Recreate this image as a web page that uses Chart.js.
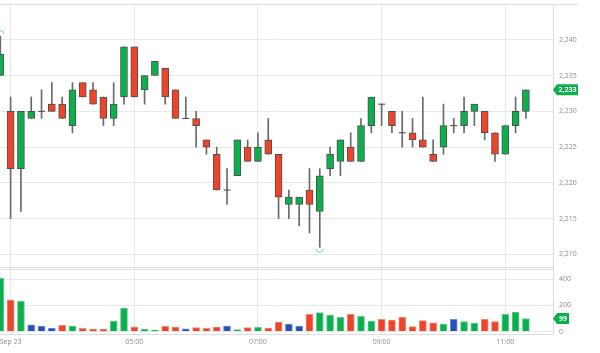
<!DOCTYPE html>
<html>
<head>
<meta charset="utf-8">
<script src="https://cdn.jsdelivr.net/npm/chart.js@4.4.1/dist/chart.umd.min.js"></script>
<style>
  html, body { margin: 0; padding: 0; background: #fff; }
  #wrap { width: 600px; height: 353px; }
</style>
</head>
<body>
<div id="wrap"><canvas id="chart" width="600" height="353"></canvas></div>
<script>
// 10 minute candles, Sep 23
const times = [
  '02:50', '03:00', '03:10', '03:20', '03:30', '03:40', '03:50',
  '04:00', '04:10', '04:20', '04:30', '04:40', '04:50',
  '05:00', '05:10', '05:20', '05:30', '05:40', '05:50',
  '06:00', '06:10', '06:20', '06:30', '06:40', '06:50',
  '07:00', '07:10', '07:20', '07:30', '07:40', '07:50',
  '08:00', '08:10', '08:20', '08:30', '08:40', '08:50',
  '09:00', '09:10', '09:20', '09:30', '09:40', '09:50',
  '10:00', '10:10', '10:20', '10:30', '10:40', '10:50',
  '11:00', '11:10', '11:20'
];
const opens = [
  2235, 2230, 2222, 2229, 2230, 2231, 2231, 2228, 2234, 2233, 2232, 2229, 2232,
  2239, 2233, 2235, 2236, 2233, 2229, 2229, 2226, 2224, 2219, 2221, 2225, 2223,
  2226, 2224, 2217, 2217, 2219, 2216, 2222, 2223, 2225, 2223, 2228, 2231, 2230,
  2227, 2227, 2226, 2224, 2225, 2228, 2228, 2230, 2230, 2227, 2224, 2228, 2230
];
const highs = [
  2240.5, 2232, 2230, 2232, 2233, 2234, 2232, 2234, 2234, 2234, 2232, 2234, 2239,
  2239, 2235, 2237, 2236, 2233, 2232, 2230, 2226, 2225, 2222, 2226, 2226, 2227,
  2229, 2224, 2219, 2218, 2222, 2222, 2225, 2226, 2227, 2229, 2232, 2231, 2230,
  2230, 2229, 2232, 2226, 2231, 2229, 2232, 2231, 2230, 2227, 2228, 2232, 2233
];
const lows = [
  2235, 2215, 2216, 2229, 2229, 2230, 2229, 2227, 2232, 2231, 2228, 2228, 2231,
  2232, 2231, 2235, 2231, 2229, 2229, 2225, 2224, 2219, 2217, 2221, 2223, 2223,
  2224, 2215, 2215, 2214, 2213, 2211, 2221, 2221, 2223, 2223, 2227, 2228, 2227,
  2225, 2225, 2225, 2223, 2224, 2227, 2227, 2228, 2226, 2223, 2224, 2227, 2229
];
const closes = [
  2238, 2222, 2230, 2230, 2230, 2230, 2229, 2233, 2232, 2231, 2229, 2231, 2239,
  2232, 2235, 2237, 2232, 2229, 2229, 2228, 2225, 2219, 2219, 2226, 2223, 2225,
  2224, 2218, 2218, 2218, 2217, 2221, 2224, 2226, 2223, 2228, 2232, 2231, 2228,
  2227, 2226, 2225, 2223, 2228, 2228, 2230, 2231, 2227, 2224, 2228, 2230, 2233
];
const volumes = [
  405, 240, 230, 50, 42, 27, 47, 42, 24, 19, 17, 80, 179,
  34, 19, 11, 40, 34, 21, 29, 24, 34, 42, 14, 29, 32,
  27, 72, 57, 42, 131, 144, 126, 108, 131, 116, 80, 93, 88,
  108, 37, 83, 67, 57, 93, 75, 65, 93, 75, 131, 149, 99
];
const tickTimes = ['03:00', '05:00', '07:00', '09:00', '11:00'];
const tickLabels = ['Sep 23', '05:00', '07:00', '09:00', '11:00'];
const priceTicks = [2210, 2215, 2220, 2225, 2230, 2235, 2240];
const volumeTicks = [0, 200, 400];

const GREEN = '#0bb04c';
const RED = '#f0442a';
const BLUE = '#2552b6';
const GRID = '#e8e8e8';
const LINE = '#dcdcdc';
const TEXT = '#8c8c8c';
const FONT = { family: 'Open Sans', size: 7 };

const idx = times.map((t, i) => i);
const isDoji = i => opens[i] === closes[i];

function volColor(i) {
  const prev = i > 0 ? closes[i - 1] : opens[i];
  if (closes[i] > prev) return GREEN;
  if (closes[i] < prev) return RED;
  return BLUE;
}
function volBorder(i) {
  const c = volColor(i);
  return c === GREEN ? '#5fd08e' : c === RED ? '#f6876f' : '#6f8ed2';
}

const fmt = v => v.toLocaleString('en-US');

const extras = {
  id: 'extras',
  afterDraw(chart) {
    const { ctx, chartArea, scales } = chart;
    const x = scales.x, y = scales.y, yv = scales.yv;
    ctx.save();
    ctx.lineWidth = 1;
    ctx.strokeStyle = LINE;
    ctx.beginPath();
    ctx.moveTo(0, chartArea.top + 0.5);
    ctx.lineTo(578, chartArea.top + 0.5);
    ctx.moveTo(0, Math.round(y.bottom) - 0.5);
    ctx.lineTo(chartArea.right, Math.round(y.bottom) - 0.5);
    ctx.moveTo(0, Math.round(yv.top) + 1.5);
    ctx.lineTo(chartArea.right, Math.round(yv.top) + 1.5);
    ctx.stroke();

    // session high / low markers
    let hi = 0, lo = 0;
    idx.forEach(i => {
      if (highs[i] > highs[hi]) hi = i;
      if (lows[i] < lows[lo]) lo = i;
    });
    ctx.strokeStyle = '#74d7a3';
    ctx.beginPath();
    ctx.arc(x.getPixelForValue(hi), y.getPixelForValue(highs[hi]) - 2, 3.5, Math.PI, 2 * Math.PI);
    ctx.stroke();
    ctx.beginPath();
    ctx.arc(x.getPixelForValue(lo), y.getPixelForValue(lows[lo]) + 1.5, 3.5, 0, Math.PI);
    ctx.stroke();

    // last value tags
    const last = closes.length - 1;
    drawTag(ctx, chartArea.right, y.getPixelForValue(closes[last]), fmt(closes[last]), 25);
    drawTag(ctx, chartArea.right, yv.getPixelForValue(volumes[last]), String(volumes[last]), 16);
    ctx.restore();
  }
};

function drawTag(ctx, left, cy, text, w) {
  const h = 5.5;
  ctx.fillStyle = GREEN;
  ctx.beginPath();
  ctx.moveTo(left, cy);
  ctx.lineTo(left + 4, cy - h);
  ctx.lineTo(left + w, cy - h);
  ctx.lineTo(left + w, cy + h);
  ctx.lineTo(left + 4, cy + h);
  ctx.closePath();
  ctx.fill();
  ctx.fillStyle = '#fff';
  ctx.font = 'bold 7px "Open Sans"';
  ctx.textAlign = 'center';
  ctx.textBaseline = 'middle';
  ctx.fillText(text, left + 4 + (w - 4) / 2, cy + 0.5);
}

new Chart(document.getElementById('chart'), {
  type: 'bar',
  data: {
    datasets: [
      {
        type: 'line',
        showLine: false,
        yAxisID: 'y',
        order: 0,
        data: idx.filter(isDoji).map(i => ({ x: i, y: closes[i] })),
        pointStyle: 'line',
        pointRadius: 3.5,
        pointBorderWidth: 1,
        pointBorderColor: '#474747'
      },
      {
        yAxisID: 'y',
        order: 1,
        grouped: false,
        barThickness: 7,
        data: idx.filter(i => !isDoji(i)).map(i => ({ x: i, y: [opens[i], closes[i]] })),
        backgroundColor: c => closes[c.raw.x] > opens[c.raw.x] ? GREEN : RED,
        borderColor: '#4f4f4f',
        borderWidth: 1,
        borderSkipped: false
      },
      {
        yAxisID: 'y',
        order: 2,
        grouped: false,
        barThickness: 1,
        data: idx.map(i => ({ x: i, y: [lows[i], highs[i]] })),
        backgroundColor: '#6a6a6a'
      },
      {
        yAxisID: 'yv',
        order: 3,
        grouped: false,
        barThickness: 7,
        data: idx.map(i => ({ x: i, y: volumes[i] })),
        backgroundColor: c => volColor(c.raw.x),
        borderColor: c => volBorder(c.raw.x),
        borderWidth: 1,
        borderSkipped: 'bottom'
      }
    ]
  },
  options: {
    responsive: false,
    animation: false,
    devicePixelRatio: 1,
    layout: { autoPadding: false, padding: { top: 4, left: 0, right: 0, bottom: 0 } },
    plugins: { legend: { display: false }, tooltip: { enabled: false } },
    scales: {
      x: {
        type: 'linear',
        offset: false,
        min: -0.03,
        max: 53.63,
        afterBuildTicks: s => { s.ticks = tickTimes.map(t => ({ value: times.indexOf(t) })); },
        afterFit: s => { s.height = 19; s.paddingLeft = 0; s.paddingRight = 0; },
        grid: { color: GRID, drawTicks: false, offset: false },
        border: { display: true, color: LINE },
        ticks: {
          padding: 4,
          color: TEXT,
          font: FONT,
          maxRotation: 0,
          autoSkip: false,
          callback: v => tickLabels[tickTimes.indexOf(times[v])]
        }
      },
      y: {
        type: 'linear',
        position: 'right',
        stack: 'panes',
        stackWeight: 264,
        min: 2208.1,
        max: 2245,
        afterBuildTicks: s => { s.ticks = priceTicks.map(v => ({ value: v })); },
        afterFit: s => { s.width = 47; s.paddingTop = 0; s.paddingBottom = 0; },
        grid: { color: GRID, drawTicks: false },
        border: { display: true, color: LINE },
        ticks: { padding: 6, color: TEXT, font: FONT, callback: v => fmt(v) }
      },
      yv: {
        type: 'linear',
        position: 'right',
        stack: 'panes',
        stackWeight: 66,
        min: -19,
        max: 484,
        afterBuildTicks: s => { s.ticks = volumeTicks.map(v => ({ value: v })); },
        afterFit: s => { s.width = 47; s.paddingTop = 0; s.paddingBottom = 0; },
        grid: { color: GRID, drawTicks: false },
        border: { display: true, color: LINE },
        ticks: { padding: 6, color: TEXT, font: FONT }
      }
    }
  },
  plugins: [extras]
});
</script>
</body>
</html>
